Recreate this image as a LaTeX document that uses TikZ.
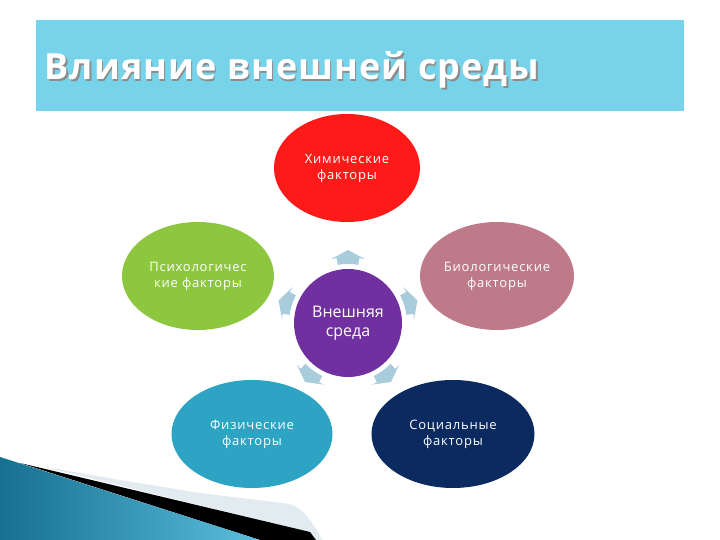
\documentclass[tikz,border=0pt]{standalone}
\usepackage{fontspec}
\setmainfont{Open Sans}
\usetikzlibrary{shapes.geometric}
\definecolor{headc}{HTML}{77D3E9}
\definecolor{redc}{HTML}{FF1A1A}
\definecolor{pinkc}{HTML}{BF7A8A}
\definecolor{greenc}{HTML}{8DC63F}
\definecolor{purplec}{HTML}{7030A0}
\definecolor{cyanc}{HTML}{2EA4C4}
\definecolor{navyc}{HTML}{0B2A60}
\definecolor{arrowc}{HTML}{A8CCDC}
\definecolor{bandc}{HTML}{E2EBF0}
\definecolor{decoL}{HTML}{16708F}
\definecolor{decoR}{HTML}{5CBEDD}
\tikzset{
  factor/.style={ellipse, inner sep=0pt, text=white, align=center,
    minimum height=108pt,
    font=\fontsize{13}{16}\selectfont\addfontfeature{LetterSpace=6}},
  centre/.style={circle, inner sep=0pt, text=white, align=center,
    minimum size=108pt, fill=purplec,
    font=\fontsize{16}{19}\selectfont},
  ringarrow/.style={fill=arrowc},
  titletext/.style={anchor=base west, font=\fontsize{36}{42}\selectfont\bfseries\addfontfeature{LetterSpace=3}}
}
\begin{document}
\begin{tikzpicture}[x=1pt,y=1pt]
\useasboundingbox (0,0) rectangle (720,540);
\fill[white] (0,0) rectangle (720,540);
% header
\fill[headc] (36,429) rectangle (684,520);
\node[titletext, text=black!45] (titleshadow) at (42.5,458.5) {Влияние внешней среды};
\node[titletext, text=white] (title) at (41,460) {Влияние внешней среды};
% bottom-left decoration
\fill[bandc] (40,74) -- (120,60) -- (200,47) -- (290,36) .. controls (303,32) and (314,16) .. (322,0) -- (316,0) -- (310,8) -- cycle;
\fill[black] (20,77) -- (310,8) -- (316,0) -- (260,0) -- cycle;
\shade[left color=decoL, right color=decoR] (0,83) -- (260,0) -- (0,0) -- cycle;
% factor ellipses
\node[factor, fill=redc, minimum width=146pt] (chem) at (347,372) {Химические\\факторы};
\node[factor, fill=pinkc, minimum width=154pt] (bio) at (497,264) {Биологические\\факторы};
\node[factor, fill=greenc, minimum width=152pt] (psy) at (198,264) {Психологичес\\кие факторы};
\node[factor, fill=cyanc, minimum width=161pt] (phys) at (252,106) {Физические\\факторы};
\node[factor, fill=navyc, minimum width=163pt] (soc) at (453,106) {Социальные\\факторы};
\node[centre] (env) at (348,217) {Внешняя\\среда};
% ring arrows
\foreach \a in {90,18,-54,-126,162}{
  \begin{scope}[shift={(env.center)}, rotate=\a]
    \fill[ringarrow] (-10:59) -- (-10:66) -- (-15:66) -- (0:73) -- (15:66) -- (10:66) -- (10:59)
      arc[start angle=10, end angle=-10, radius=59] -- cycle;
  \end{scope}
}
\end{tikzpicture}
\end{document}
